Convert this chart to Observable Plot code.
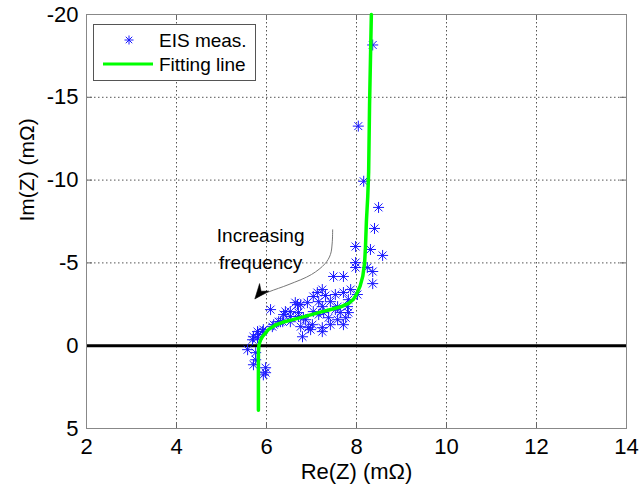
<!DOCTYPE html>
<html>
<head>
<meta charset="utf-8">
<script src="https://cdn.jsdelivr.net/npm/d3@7"></script>
<script src="https://cdn.jsdelivr.net/npm/@observablehq/plot@0.6"></script>
<style>
  html, body { margin: 0; padding: 0; background: #fff; }
  #chart { width: 640px; height: 491px; }
</style>
</head>
<body>
<div id="chart"></div>
<script>
// ---- data ----
const measRe = [8.36, 8.04, 8.16, 8.49, 8.40, 7.98, 8.31, 8.58, 7.98, 7.98, 8.24, 8.36, 7.49, 7.71, 8.36, 7.87, 7.71, 7.53, 8.02, 7.24,
  7.13, 7.82, 7.04, 7.16, 7.42, 6.76, 6.91, 6.64, 7.24, 7.58, 7.80, 6.53, 6.71, 7.04, 7.27, 7.64, 7.82, 6.38, 6.82, 7.38,
  7.58, 7.76, 6.31, 6.53, 7.02, 7.42, 7.71, 6.76, 7.24, 6.98, 7.24, 6.80, 6.42, 6.09, 6.27, 6.13, 5.93, 5.80, 5.71, 5.82,
  5.91, 6.93, 5.58, 5.76, 5.76, 5.71, 5.98, 5.93, 5.69, 5.80, 6.16, 6.36, 6.53, 6.71, 6.69, 5.98, 7.31, 7.53, 7.16, 6.87];
const measIm = [-18.16, -13.26, -9.93, -8.35, -7.08, -5.99, -5.81, -5.45, -5.02, -4.72, -4.72, -4.48, -4.18, -4.18, -3.75, -3.39, -3.21, -3.09, -3.09, -3.39,
  -3.21, -2.78, -2.97, -2.66, -2.66, -2.48, -2.60, -2.60, -2.36, -2.36, -2.36, -2.06, -2.00, -2.06, -2.00, -2.00, -2.00, -1.88, -1.69, -1.69,
  -1.57, -1.69, -1.45, -1.45, -1.27, -1.27, -1.27, -1.15, -1.09, -0.97, -0.85, -0.54, -2.06, -2.18, -1.45, -1.15, -0.97, -0.85, -0.54, -0.67,
  -0.85, -1.09, 0.24, 0.42, 0.85, 1.15, 1.33, 1.76, -0.36, -0.48, -1.27, -1.45, -1.76, -1.76, -2.48, 1.63, -3.03, -2.18, -1.88, -1.57];

const fitRe = [5.82, 5.82, 5.82, 5.83, 5.86, 5.91, 6.04, 6.20, 6.40, 6.65, 6.90, 7.20, 7.45, 7.65, 7.82, 7.93, 8.00, 8.08, 8.14, 8.18, 8.20, 8.22, 8.25, 8.27, 8.29, 8.33];
const fitIm = [3.9, 2.0, 0.5, 0.0, -0.3, -0.55, -0.97, -1.25, -1.45, -1.62, -1.8, -2.03, -2.2, -2.35, -2.55, -2.8, -3.1, -3.6, -4.2, -5.0, -6.0, -7.5, -9.0, -10.5, -14.5, -20];

const xTicks = [2, 4, 6, 8, 10, 12, 14];
const yTicks = [-20, -15, -10, -5, 0, 5];

const seriesNames = ["EIS meas.", "Fitting line"];
const xTitle = "Re(Z) (mΩ)";
const yTitle = "Im(Z) (mΩ)";
const noteLines = ["Increasing", "frequency"];
const noteRe = [5.87, 5.87];
const noteIm = [-6.6, -4.98];
const arrowRe = [7.47, 7.46, 7.42, 7.30, 7.00, 6.50, 6.05, 5.80];
const arrowIm = [-7.0, -6.2, -5.5, -4.95, -4.3, -3.7, -3.25, -2.95];
const arrowTip = [{re: 5.74, im: -2.82}];

// ---- build tables ----
const meas = measRe.map((re, i) => ({re, im: measIm[i]}));
const fit = fitRe.map((re, i) => ({re, im: fitIm[i]}));
const notes = noteLines.map((t, i) => ({t, re: noteRe[i], im: noteIm[i]}));
const arrowPath = arrowRe.map((re, i) => ({re, im: arrowIm[i]}));

// MATLAB-style '*' marker (plus + cross)
const starSymbol = {
  draw(ctx, size) {
    const r = Math.sqrt(size / Math.PI);
    const d = r * 0.72;
    ctx.moveTo(-r, 0); ctx.lineTo(r, 0);
    ctx.moveTo(0, -r); ctx.lineTo(0, r);
    ctx.moveTo(-d, -d); ctx.lineTo(d, d);
    ctx.moveTo(-d, d); ctx.lineTo(d, -d);
  }
};
const headSymbol = {
  draw(ctx, size) {
    ctx.moveTo(0, 0);
    ctx.lineTo(-15, -6);
    ctx.lineTo(-10, 0);
    ctx.lineTo(-15, 6);
    ctx.closePath();
  }
};

const W = 640, H = 491, mL = 86, mR = 14, mT = 14, mB = 63;
const innerW = W - mL - mR, innerH = H - mT - mB;
const font = "'Liberation Sans', Arial, Helvetica, sans-serif";
const fmt = d => String(d);

const plot = Plot.plot({
  width: W, height: H,
  marginLeft: mL, marginRight: mR, marginTop: mT, marginBottom: mB,
  style: {fontFamily: font, fontSize: "22px", background: "white", color: "black", overflow: "visible"},
  x: {domain: [2, 14], ticks: xTicks, label: null},
  y: {domain: [5, -20], ticks: yTicks, label: null},
  marks: [
    Plot.gridX(xTicks.slice(1, -1), {stroke: "#555", strokeOpacity: 1, strokeDasharray: "1.5,2.5"}),
    Plot.gridY(yTicks.slice(1, -1), {stroke: "#555", strokeOpacity: 1, strokeDasharray: "1.5,2.5"}),
    // inward tick marks on all four sides
    Plot.tickX(xTicks, {x: d => d, stroke: "#666", insetTop: innerH - 6}),
    Plot.tickX(xTicks, {x: d => d, stroke: "#666", insetBottom: innerH - 6}),
    Plot.tickY(yTicks, {y: d => d, stroke: "#666", insetRight: innerW - 6}),
    Plot.tickY(yTicks, {y: d => d, stroke: "#666", insetLeft: innerW - 6}),
    Plot.ruleY([0], {stroke: "black", strokeWidth: 3}),
    Plot.frame({stroke: "#888"}),
    Plot.axisX({ticks: xTicks, tickSize: 0, tickPadding: 10, tickFormat: fmt, fontSize: 22}),
    Plot.axisY({ticks: yTicks, tickSize: 0, tickPadding: 8, tickFormat: fmt, fontSize: 22}),
    Plot.text([xTitle], {frameAnchor: "bottom", dy: 50, fontSize: 22, text: d => d}),
    Plot.text([yTitle], {frameAnchor: "left", dx: -59, rotate: -90, fontSize: 21, text: d => d}),
    Plot.dot(meas, {x: "re", y: "im", symbol: starSymbol, r: 5.5, stroke: "#1a1aff", strokeWidth: 1, fill: "none"}),
    Plot.line(fit, {x: "re", y: "im", stroke: "#00ff00", strokeWidth: 3.5, curve: "linear"}),
    Plot.line(arrowPath, {x: "re", y: "im", stroke: "#777", strokeWidth: 1, curve: "catmull-rom"}),
    Plot.dot(arrowTip, {x: "re", y: "im", symbol: headSymbol, r: 5, fill: "black", stroke: "black", strokeWidth: 0.5, rotate: 129}),
    Plot.text(notes, {x: "re", y: "im", text: "t", fontSize: 19, fill: "black"})
  ]
});

// ---- legend (inside the plot, upper-left) ----
const svg = d3.select(plot);
const lg = svg.append("g").attr("font-family", font).attr("font-size", 19).attr("text-anchor", "start");
lg.append("rect").attr("x", 93.5).attr("y", 24.5).attr("width", 162).attr("height", 56)
  .attr("fill", "white").attr("stroke", "#555").attr("stroke-width", 1);
lg.append("path").attr("d", d3.symbol(starSymbol, Math.PI * 4.5 * 4.5)())
  .attr("transform", "translate(129,40)").attr("fill", "none").attr("stroke", "#1a1aff").attr("stroke-width", 1);
lg.append("line").attr("x1", 103).attr("x2", 153).attr("y1", 64).attr("y2", 64)
  .attr("stroke", "#00ff00").attr("stroke-width", 3);
lg.selectAll("text.lbl").data(seriesNames).join("text")
  .attr("x", 159).attr("y", (d, i) => 40 + i * 24).attr("dy", "0.35em")
  .attr("text-anchor", "start").text(d => d);

document.getElementById("chart").appendChild(plot);
</script>
</body>
</html>
